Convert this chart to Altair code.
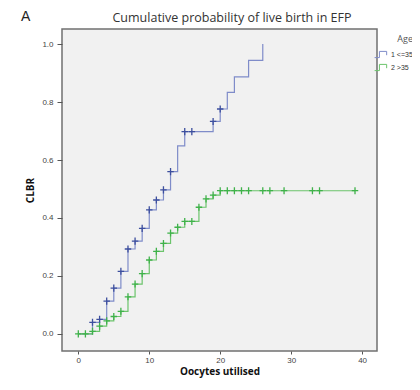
import altair as alt
import pandas as pd

# ---- data ----
young_x = [0, 2, 3, 4, 5, 6, 7, 8, 9, 10, 11, 12, 13, 14, 15, 16, 19, 20, 21, 22, 24, 26]
young_y = [0.0, 0.04, 0.05, 0.113, 0.158, 0.216, 0.293, 0.32, 0.364, 0.428, 0.462, 0.497,
           0.56, 0.649, 0.698, 0.698, 0.733, 0.776, 0.833, 0.887, 0.944, 1.0]
young_cens = [0, 1, 1, 1, 1, 1, 1, 1, 1, 1, 1, 1, 1, 0, 1, 1, 1, 1, 0, 0, 0, 0]

old_x = [0, 1, 2, 3, 4, 5, 6, 7, 8, 9, 10, 11, 12, 13, 14, 15, 16, 17, 18, 19, 20,
         21, 22, 23, 24, 26, 27, 29, 33, 34, 39]
old_y = [0.0, 0.0, 0.009, 0.027, 0.045, 0.06, 0.078, 0.128, 0.172, 0.208, 0.255, 0.285,
         0.312, 0.348, 0.368, 0.388, 0.388, 0.437, 0.466, 0.479, 0.494,
         0.494, 0.494, 0.494, 0.494, 0.494, 0.494, 0.494, 0.494, 0.494, 0.494]
old_cens = [1] * len(old_x)

groups = ["1 <=35", "2 >35"]
line_colors = ["#7f8cc9", "#6cc46c"]
mark_colors = ["#3d4f9e", "#3fb24a"]

x_ticks = [0, 10, 20, 30, 40]
y_ticks = [0.0, 0.2, 0.4, 0.6, 0.8, 1.0]

panel_letter = ["A"]
title_text = ["Cumulative probability of live birth in EFP"]

rows = []
for xs, ys, cs, g in [(young_x, young_y, young_cens, groups[0]),
                      (old_x, old_y, old_cens, groups[1])]:
    for i, (a, b, c) in enumerate(zip(xs, ys, cs)):
        rows.append({"x": a, "y": b, "cens": c, "Age": g, "ord": i})
df = pd.DataFrame(rows)

xscale = alt.Scale(domain=[-2.3, 42.1], nice=False, zero=False)
yscale = alt.Scale(domain=[-0.059, 1.052], nice=False, zero=False)

xaxis = alt.Axis(title="Oocytes utilised", values=x_ticks, format="d", grid=False,
                 domain=False, tickSize=3, tickColor="#555", labelFontSize=8,
                 labelColor="#444", labelPadding=2, titleFontSize=10,
                 titleFontWeight="bold", titleColor="#111", titlePadding=2,
                 labelFont="Liberation Sans", titleFont="Open Sans")
yaxis = alt.Axis(title="CLBR", values=y_ticks, format=".1f", grid=False,
                 domain=False, tickSize=5, tickColor="#555", labelFontSize=8,
                 labelColor="#444", labelPadding=4, titleFontSize=10,
                 titleFontWeight="bold", titleColor="#111", titlePadding=6,
                 labelFont="Liberation Sans", titleFont="Open Sans")

color = alt.Color("Age:N",
                  scale=alt.Scale(domain=groups, range=line_colors),
                  legend=alt.Legend(title="Age", orient="none", legendX=312, legendY=6,
                                    titleFontSize=9, titleFontWeight="normal",
                                    titleColor="#555", titleAnchor="end",
                                    titleFont="Open Sans", titlePadding=3,
                                    labelFontSize=7, labelColor="#333",
                                    labelFont="Liberation Sans", labelOffset=2,
                                    symbolType="M-1,0.45H-0.3V-0.45H0.75V0.1",
                                    symbolSize=190, symbolStrokeWidth=1,
                                    symbolFillColor="transparent", rowPadding=0,
                                    symbolOffset=0))

lines = alt.Chart(df).mark_line(interpolate="step-after", strokeWidth=1.2).encode(
    x=alt.X("x:Q", scale=xscale, axis=xaxis),
    y=alt.Y("y:Q", scale=yscale, axis=yaxis),
    color=color,
    order="ord:Q",
)

marks = alt.Chart(df).transform_filter("datum.cens == 1").mark_point(
    shape="M-1,0H1M0,-1.1V1.1", filled=False, size=42, strokeWidth=1.3, opacity=1
).encode(
    x=alt.X("x:Q", scale=xscale),
    y=alt.Y("y:Q", scale=yscale),
    stroke=alt.Stroke("Age:N", scale=alt.Scale(domain=groups, range=mark_colors),
                      legend=None),
)

letter = alt.Chart(pd.DataFrame({"t": panel_letter})).mark_text(
    fontSize=14, font="Liberation Sans", color="#222", align="left", baseline="middle"
).encode(x=alt.value(-41), y=alt.value(-12), text="t:N")

title = alt.Chart(pd.DataFrame({"t": title_text})).mark_text(
    fontSize=12.5, font="Open Sans", color="#333", align="center", baseline="middle"
).encode(x=alt.value(170), y=alt.value(-11), text="t:N")

chart = alt.layer(lines, marks, letter, title).resolve_scale(stroke="independent").properties(
    width=315, height=322,
    autosize=alt.AutoSizeParams(type="none"),
    padding={"left": 54, "top": 21, "right": 35, "bottom": 27},
).configure(
    background="white"
).configure_view(
    fill="#f1f1f1", stroke="#707070", strokeWidth=1.5
)

chart.save("out.html", embed_options={"renderer": "svg", "actions": False})
